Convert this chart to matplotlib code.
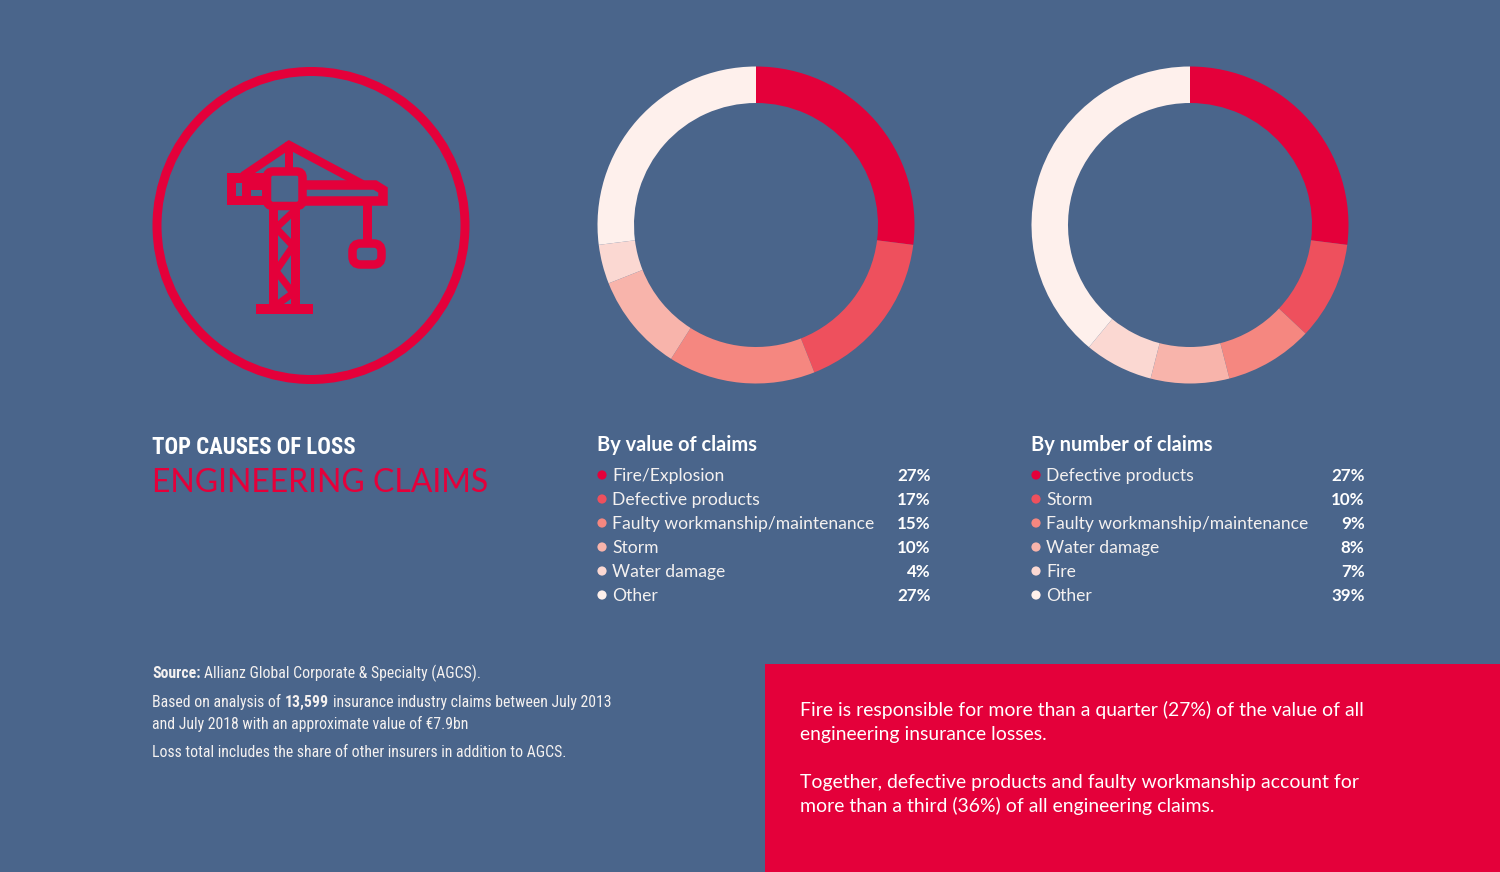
import matplotlib
matplotlib.use("Agg")
import matplotlib.pyplot as plt
from matplotlib import font_manager as fm
from matplotlib.patches import Circle, FancyBboxPatch, Rectangle

BG = "#4A658B"
RED = "#E4003A"
WHITE = "#FFFFFF"
SHADES = ["#E4003A", "#EE505D", "#F58780", "#F8B4AB", "#FBD8D2", "#FEF0EC"]

value_labels = ["Fire/Explosion", "Defective products", "Faulty workmanship/maintenance",
                "Storm", "Water damage", "Other"]
value_shares = [27, 17, 15, 10, 4, 27]
number_labels = ["Defective products", "Storm", "Faulty workmanship/maintenance",
                 "Water damage", "Fire", "Other"]
number_shares = [27, 10, 9, 8, 7, 39]

W, H = 1500, 872
plt.rcParams["font.family"] = ["Lato", "DejaVu Sans"]
installed = {f.name for f in fm.fontManager.ttflist}
NARROW = next((n for n in ["Roboto Condensed", "Open Sans Condensed", "Lato Condensed", "Lato"] if n in installed), "Lato")

fig = plt.figure(figsize=(W / 100, H / 100), dpi=100, facecolor=BG)
ov = fig.add_axes([0, 0, 1, 1])
ov.set_xlim(0, W)
ov.set_ylim(H, 0)
ov.axis("off")
renderer = fig.canvas.get_renderer()


def px(s):
    return s * 0.72


def fitted_size(text, weight, width, start=20.0):
    t = ov.text(0, 0, text, fontsize=px(start), fontweight=weight, family=NARROW)
    w = t.get_window_extent(renderer).width
    t.remove()
    return start * width / w


def runs(x, y, parts, size, color="#F4F1F0"):
    """Lay out (text, weight) pieces one after another on a line."""
    for s, w in parts:
        t = ov.text(x, y, s.rstrip(), fontsize=px(size), color=color, fontweight=w, va="center",
                    ha="left", family=NARROW)
        x += t.get_window_extent(renderer).width + (size * 0.24 if s.endswith(" ") else 0)


def donut(cx, cy, values):
    R = 158.5
    ax = fig.add_axes([(cx - R) / W, 1 - (cy + R) / H, 2 * R / W, 2 * R / H])
    ax.pie(values, colors=SHADES, startangle=90, counterclock=False, radius=1,
           wedgeprops=dict(width=36.5 / R, linewidth=0))
    ax.set_xlim(-1, 1)
    ax.set_ylim(-1, 1)
    ax.axis("off")


def legend(x, title, labels, shares, right):
    ov.text(x, 445, title, fontsize=px(20), fontweight="bold", color=WHITE, va="center", ha="left")
    for i, (lab, sh) in enumerate(zip(labels, shares)):
        y = 476 + 24 * i
        ov.add_patch(Circle((x + 5, y - 1), 4.6, fc=SHADES[i], ec="none"))
        ov.text(x + 15, y, lab, fontsize=px(17.5), color="#F4F1F0", va="center", ha="left")
        ov.text(right, y, f"{sh}%", fontsize=px(17), fontweight="bold", color=WHITE, va="center", ha="right")


donut(756, 225, value_shares)
donut(1190, 225, number_shares)
legend(597, "By value of claims", value_labels, value_shares, 930.5)
legend(1031, "By number of claims", number_labels, number_shares, 1364.5)

# Icon
ov.add_patch(Circle((311, 225.5), 154, fc="none", ec=RED, lw=px(9)))
lw = px(8.5)


def poly(pts, w=lw):
    ov.plot([p[0] for p in pts], [p[1] for p in pts], color=RED, lw=w, solid_capstyle="butt",
            solid_joinstyle="miter")


for rect in [(269, 206, 9, 100), (291, 206, 9, 100), (256, 304, 57, 9.5), (285, 142, 8, 28),
             (363, 203, 9, 38)]:
    ov.add_patch(Rectangle(rect[:2], rect[2], rect[3], fc=RED, ec="none"))
ov.add_patch(FancyBboxPatch((267, 171.5), 35.5, 34.5, boxstyle="round,pad=0,rounding_size=6",
                            fc="none", ec=RED, lw=lw))
ov.add_patch(FancyBboxPatch((352.5, 243.5), 29, 21, boxstyle="round,pad=0,rounding_size=8",
                            fc="none", ec=RED, lw=lw))
poly([(243, 176), (289, 145), (362, 184)], px(8.5))
poly([(304, 185), (375, 185), (383, 190), (383, 201), (304, 201)], px(9.5))
ov.add_patch(Rectangle((227, 173.5), 38, 31.5, fc=RED, ec="none"))
ov.add_patch(Rectangle((236, 183), 6, 13, fc=BG, ec="none"))
ov.add_patch(Rectangle((251, 190), 11, 6.5, fc=BG, ec="none"))
poly([(293, 212), (276, 228), (293, 246), (276, 271), (293, 293), (278, 304)], px(7))

# Headline
head = "TOP CAUSES OF LOSS"
ov.text(152, 447, head, fontsize=px(fitted_size(head, "bold", 204)), fontweight="bold", color=WHITE,
        va="center", family=NARROW)
ov.text(152, 483, "ENGINEERING CLAIMS", fontsize=px(32), fontweight="normal", color=RED, va="center")

# Source note
longest = "Loss total includes the share of other insurers in addition to AGCS."
note = fitted_size(longest, "normal", 413)
runs(152, 673.5, [("Source: ", "bold"), ("Allianz Global Corporate & Specialty (AGCS).", "normal")], note)
runs(152, 702, [("Based on analysis of ", "normal"), ("13,599 ", "bold"),
                ("insurance industry claims between July 2013", "normal")], note)
runs(152, 724, [("and July 2018 with an approximate value of €7.9bn", "normal")], note)
runs(152, 752, [(longest, "normal")], note)

# Callout
ov.add_patch(Rectangle((765, 664), 735, 208, fc=RED, ec="none"))
for y, s in [(710, "Fire is responsible for more than a quarter (27%) of the value of all"),
             (734, "engineering insurance losses."),
             (782, "Together, defective products and faulty workmanship account for"),
             (806, "more than a third (36%) of all engineering claims.")]:
    ov.text(800, y, s, fontsize=px(19.4), color=WHITE, va="center", ha="left")

fig.savefig("out.png", dpi=100, facecolor=BG)
